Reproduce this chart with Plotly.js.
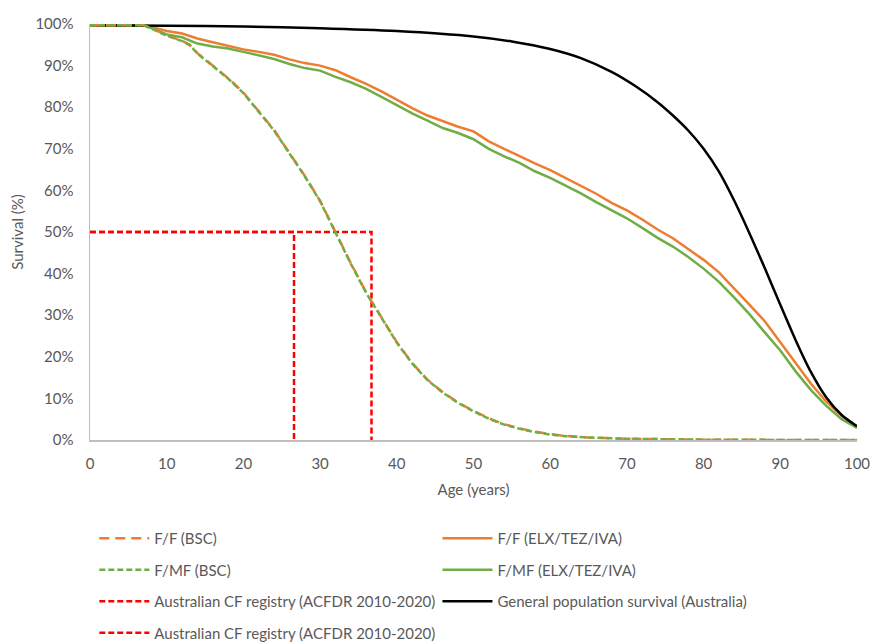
<!DOCTYPE html>
<html>
<head>
<meta charset="utf-8">
<script src="https://cdn.plot.ly/plotly-3.0.1.min.js"></script>
<style>
  html, body { margin: 0; padding: 0; background: #fff; }
  #chart { width: 870px; height: 642px; }
</style>
</head>
<body>
<div id="chart"></div>
<script>
// ---- Data ----
const ageETI = [0, 7, 8, 10, 12, 14, 16, 18, 20, 22, 24, 26, 28, 30, 32, 34, 36, 38, 40, 42, 44, 46, 48, 50, 52, 54, 56, 58, 60, 62, 64, 66, 68, 70, 72, 74, 76, 78, 80, 82, 84, 86, 88, 90, 92, 94, 96, 98, 100];
const ffETI = [0.997, 0.997, 0.993, 0.983, 0.977, 0.965, 0.956, 0.948, 0.939, 0.933, 0.926, 0.915, 0.906, 0.900, 0.889, 0.872, 0.856, 0.838, 0.817, 0.798, 0.780, 0.766, 0.753, 0.742, 0.718, 0.700, 0.682, 0.665, 0.649, 0.630, 0.613, 0.592, 0.570, 0.552, 0.530, 0.506, 0.485, 0.460, 0.433, 0.403, 0.365, 0.325, 0.285, 0.235, 0.183, 0.135, 0.092, 0.058, 0.032];
const fmfETI = [0.997, 0.997, 0.990, 0.975, 0.968, 0.953, 0.946, 0.941, 0.933, 0.925, 0.916, 0.904, 0.894, 0.888, 0.873, 0.860, 0.844, 0.825, 0.805, 0.785, 0.768, 0.750, 0.738, 0.723, 0.700, 0.682, 0.666, 0.646, 0.630, 0.612, 0.593, 0.572, 0.552, 0.533, 0.510, 0.486, 0.465, 0.440, 0.412, 0.380, 0.342, 0.302, 0.258, 0.215, 0.165, 0.120, 0.082, 0.050, 0.029];

const ageBSC = [0, 7, 8, 10, 12, 13, 14, 15, 16, 18, 20, 22, 24, 26, 28, 30, 32, 34, 36, 38, 40, 42, 44, 46, 48, 50, 52, 54, 56, 58, 60, 62, 65, 70, 75, 80, 90, 100];
const ffBSC = [0.997, 0.997, 0.990, 0.973, 0.960, 0.950, 0.930, 0.915, 0.900, 0.870, 0.835, 0.790, 0.745, 0.690, 0.635, 0.575, 0.500, 0.425, 0.355, 0.295, 0.235, 0.185, 0.145, 0.115, 0.090, 0.070, 0.052, 0.038, 0.028, 0.020, 0.014, 0.010, 0.006, 0.003, 0.0015, 0.0008, 0.0002, 0.0];
const fmfBSC = [0.997, 0.997, 0.989, 0.972, 0.959, 0.949, 0.929, 0.914, 0.899, 0.869, 0.834, 0.789, 0.744, 0.689, 0.634, 0.574, 0.499, 0.424, 0.354, 0.294, 0.234, 0.184, 0.144, 0.114, 0.089, 0.069, 0.051, 0.037, 0.027, 0.019, 0.013, 0.009, 0.006, 0.003, 0.0015, 0.0008, 0.0002, 0.0];

const ageGen = [0, 10, 20, 30, 40, 50, 55, 60, 64, 68, 71, 74, 76, 78, 80, 82, 84, 86, 88, 90, 92, 94, 96, 98, 100];
const genPop = [0.997, 0.996, 0.994, 0.990, 0.983, 0.970, 0.958, 0.940, 0.918, 0.885, 0.852, 0.812, 0.780, 0.744, 0.700, 0.645, 0.575, 0.496, 0.412, 0.325, 0.240, 0.163, 0.102, 0.060, 0.033];

// Australian CF registry median survival markers
const acfdrAge1 = [0, 36.7, 36.7];
const acfdrSurv1 = [0.5, 0.5, 0];
const acfdrAge2 = [0, 26.6, 26.6];
const acfdrSurv2 = [0.5, 0.5, 0];

const names = ["F/F (BSC)", "F/F (ELX/TEZ/IVA)", "F/MF (BSC)", "F/MF (ELX/TEZ/IVA)",
               "Australian CF registry (ACFDR 2010-2020)", "General population survival (Australia)",
               "Australian CF registry (ACFDR 2010-2020)"];

// ---- Styles ----
const ORANGE = "#ED7D31", GREEN = "#70AD47", RED = "#FF0000", BLACK = "#000000";
const FONT = "Lato, 'Open Sans', sans-serif";
const GREY = "#595959";

const traces = [
  {x: acfdrAge1, y: acfdrSurv1, name: names[4], legend: "legend", legendgroup: "g3", legendrank: 3,
   line: {color: RED, width: 2.5, dash: "6px,3px"}},
  {x: acfdrAge2, y: acfdrSurv2, name: names[6], legend: "legend", legendgroup: "g4", legendrank: 4,
   line: {color: RED, width: 2.5, dash: "6px,3px"}},
  {x: ageETI, y: ffETI, name: names[1], legend: "legend2", legendgroup: "h1", legendrank: 1,
   line: {color: ORANGE, width: 2.5}},
  {x: ageETI, y: fmfETI, name: names[3], legend: "legend2", legendgroup: "h2", legendrank: 2,
   line: {color: GREEN, width: 2.5}},
  {x: ageGen, y: genPop, name: names[5], legend: "legend2", legendgroup: "h3", legendrank: 3,
   line: {color: BLACK, width: 2.5, shape: "spline", smoothing: 0.8}},
  {x: ageBSC, y: ffBSC, name: names[0], legend: "legend", legendgroup: "g1", legendrank: 1,
   line: {color: ORANGE, width: 2.5, dash: "10px,6px"}},
  {x: ageBSC, y: fmfBSC, name: names[2], legend: "legend", legendgroup: "g2", legendrank: 2,
   line: {color: GREEN, width: 2.5, dash: "6px,3px"}}
].map(t => Object.assign({type: "scatter", mode: "lines", hoverinfo: "skip"}, t));

const legendCommon = {
  orientation: "v", traceorder: "grouped", tracegroupgap: 9, itemwidth: 50,
  font: {family: FONT, size: 15, color: GREY}, bgcolor: "rgba(0,0,0,0)",
  xanchor: "left", yanchor: "top", yref: "container", xref: "paper",
  itemclick: false, itemdoubleclick: false
};

const layout = {
  width: 870, height: 642,
  margin: {l: 90, r: 13, t: 24, b: 202},
  paper_bgcolor: "#fff", plot_bgcolor: "#fff",
  font: {family: FONT, color: GREY, size: 15},
  showlegend: true,
  xaxis: {
    range: [0, 100], dtick: 10, tick0: 0, showgrid: false, zeroline: false,
    showline: true, linecolor: "#BFBFBF", linewidth: 1.5, ticks: "",
    ticklabelstandoff: 9, ticklabeloverflow: "allow",
    tickfont: {family: FONT, size: 15, color: GREY},
    title: {text: "Age (years)", font: {family: FONT, size: 15, color: GREY}, standoff: 14}
  },
  yaxis: {
    range: [0, 1], dtick: 0.1, tick0: 0, tickformat: ".0%", showgrid: false, zeroline: false,
    showline: true, linecolor: "#BFBFBF", linewidth: 1.5, ticks: "",
    ticklabelstandoff: 12,
    tickfont: {family: FONT, size: 15, color: GREY},
    title: {text: "Survival (%)", font: {family: FONT, size: 15, color: GREY}, standoff: 8}
  },
  legend: Object.assign({}, legendCommon, {x: 0.0056, y: 0.187}),
  legend2: Object.assign({}, legendCommon, {x: 0.453, y: 0.187})
};

Plotly.newPlot("chart", traces, layout, {displayModeBar: false, staticPlot: true});
</script>
</body>
</html>
